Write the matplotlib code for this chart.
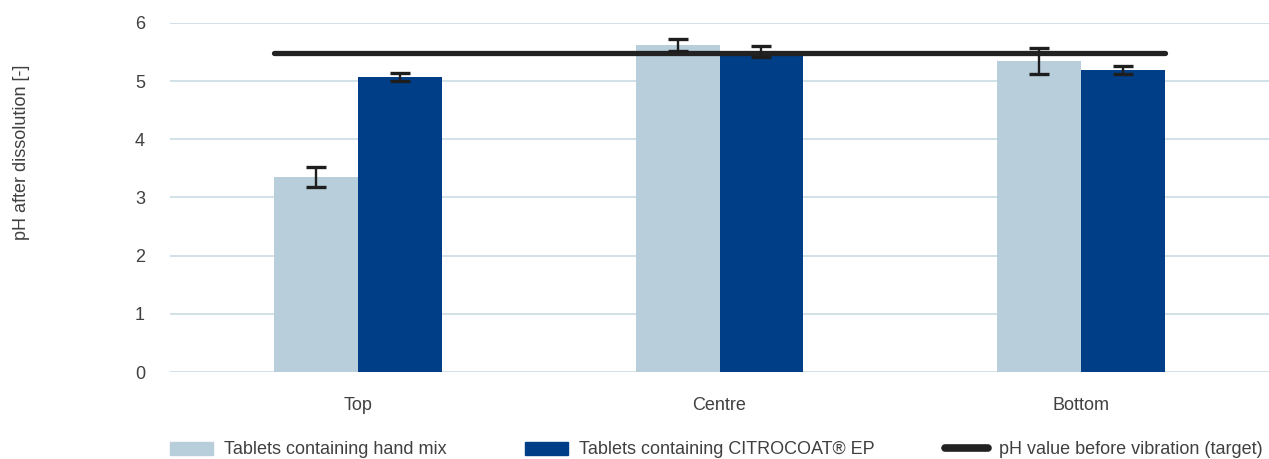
import numpy as np
import matplotlib.pyplot as plt
from matplotlib.lines import Line2D
from matplotlib.patches import Patch

plt.rcParams['font.family'] = ['Liberation Sans', 'DejaVu Sans']

# data
categories = ['Top', 'Centre', 'Bottom']
hand_mix = [3.35, 5.62, 5.35]
hand_mix_err = [0.17, 0.10, 0.22]
citrocoat = [5.07, 5.51, 5.19]
citrocoat_err = [0.07, 0.09, 0.07]
target = [5.48, 5.48, 5.48]
y_ticks = [0, 1, 2, 3, 4, 5, 6]

light = '#b8cfdb'
dark = '#003f87'
grid_col = '#c9dae4'
txt = '#404040'
fs = 13

x = np.arange(len(categories))
w = 0.232

fig = plt.figure(figsize=(12.69, 4.59), dpi=100)
ax = fig.add_axes([0.134, 0.1895, 0.866, 0.7605])

ax.bar(x - w/2, hand_mix, w, color=light, zorder=2)
ax.bar(x + w/2, citrocoat, w, color=dark, zorder=2)

# target line across all groups
ax.plot([x[0] - w, x[-1] + w], [target[0], target[-1]], color='#222222',
        lw=3.8, solid_capstyle='round', zorder=3)

ax.errorbar(x - w/2, hand_mix, yerr=hand_mix_err, fmt='none', ecolor='#1e1e1e',
            elinewidth=1.7, capsize=7, capthick=2.4, zorder=4)
ax.errorbar(x + w/2, citrocoat, yerr=citrocoat_err, fmt='none', ecolor='#1e1e1e',
            elinewidth=1.7, capsize=7, capthick=2.4, zorder=4)

ax.set_xlim(-0.52, 2.52)
ax.set_ylim(0, 6)
ax.set_yticks(y_ticks)
ax.set_xticks(x)
ax.set_xticklabels(categories)
ax.yaxis.grid(True, color=grid_col, lw=1.2, zorder=0)
ax.set_axisbelow(True)
for s in ax.spines.values():
    s.set_visible(False)
ax.tick_params(axis='both', length=0, labelsize=fs, colors=txt)
ax.tick_params(axis='y', pad=18)
ax.tick_params(axis='x', pad=18)

fig.text(0.017, 0.669, 'pH after dissolution [-]', rotation=90, ha='center',
         va='center', fontsize=fs, color=txt)

# legend entries placed one by one
handles = [Patch(color=light), Patch(color=dark),
           Line2D([0], [0], color='#222222', lw=5.5, solid_capstyle='round')]
labels = ['Tablets containing hand mix', 'Tablets containing CITROCOAT\u00ae EP',
          'pH value before vibration (target)']
starts = [170, 525, 945]
for h, lab, px in zip(handles, labels, starts):
    fig.legend([h], [lab], loc='center left', bbox_to_anchor=(px / 1269, 1 - 450 / 459),
               frameon=False, fontsize=fs, handlelength=2.4, handleheight=0.75,
               labelcolor=txt, handletextpad=0.6, borderpad=0, borderaxespad=0)

fig.savefig('out.png', dpi=100)
